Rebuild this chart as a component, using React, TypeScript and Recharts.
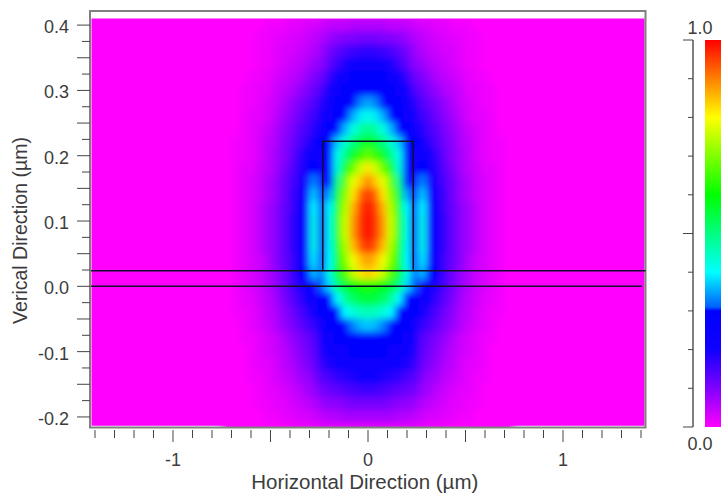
import React from 'react';
import { ComposedChart, Bar, Scatter, XAxis, YAxis, ReferenceArea, ReferenceLine } from 'recharts';

const FONT = '"Liberation Sans", Arial, sans-serif';
const TEXT = '#3c3c3c';
const AXIS = '#808080';

// intensity in percent; the field is symmetric about x = 0,
// so each row only lists x >= 0
const fieldX = [0, 0.04, 0.08, 0.12, 0.16, 0.2, 0.24, 0.28, 0.32, 0.36, 0.4, 0.44, 0.48, 0.52, 0.56, 0.6, 0.64, 0.68, 0.72];
const fieldY = [0.42, 0.4, 0.38, 0.36, 0.34, 0.32, 0.3, 0.28, 0.26, 0.24, 0.22, 0.2, 0.18, 0.16, 0.14, 0.12, 0.1, 0.08, 0.06, 0.04, 0.02, 0, -0.02, -0.04, -0.06, -0.08, -0.1, -0.12, -0.14, -0.16, -0.18, -0.2, -0.22];
const fieldRows = [
  [2, 2, 2, 2, 2, 2, 1, 1, 1, 1, 1, 0, 0, 0, 0, 0, 0, 0, 0],
  [6, 6, 6, 5, 5, 5, 4, 3, 3, 2, 2, 1, 1, 1, 0, 0, 0, 0, 0],
  [11, 11, 10, 10, 9, 8, 6, 5, 4, 3, 3, 2, 2, 1, 1, 0, 0, 0, 0],
  [17, 17, 16, 15, 13, 11, 8, 6, 5, 4, 3, 3, 2, 1, 1, 0, 0, 0, 0],
  [22, 22, 21, 19, 16, 13, 9, 8, 6, 5, 4, 3, 2, 1, 1, 0, 0, 0, 0],
  [27, 27, 26, 24, 20, 17, 12, 10, 8, 6, 5, 4, 3, 2, 1, 1, 0, 0, 0],
  [29, 29, 28, 27, 24, 20, 15, 12, 10, 8, 6, 5, 4, 2, 2, 1, 1, 0, 0],
  [35, 33, 30, 28, 26, 23, 18, 14, 12, 10, 8, 6, 4, 3, 2, 1, 1, 0, 0],
  [42, 39, 35, 30, 28, 25, 21, 16, 14, 11, 9, 7, 5, 3, 2, 2, 1, 0, 0],
  [49, 47, 42, 36, 30, 27, 24, 18, 15, 13, 10, 8, 6, 4, 3, 2, 1, 0, 0],
  [58, 55, 50, 44, 37, 29, 26, 20, 17, 14, 11, 9, 6, 5, 3, 2, 1, 1, 0],
  [68, 64, 58, 50, 41, 30, 25, 25, 20, 16, 12, 9, 7, 5, 3, 2, 1, 1, 0],
  [82, 76, 68, 61, 43, 28, 22, 29, 20, 17, 13, 10, 7, 5, 4, 2, 2, 1, 0],
  [90, 84, 78, 67, 50, 29, 22, 33, 20, 18, 14, 11, 8, 6, 4, 3, 2, 1, 0],
  [96, 92, 82, 70, 56, 35, 22, 37, 21, 19, 15, 11, 8, 6, 4, 3, 2, 1, 0],
  [99, 95, 86, 74, 60, 40, 22, 40, 21, 20, 15, 12, 9, 7, 5, 3, 2, 1, 0],
  [100, 96, 88, 76, 62, 42, 22, 42, 22, 20, 16, 12, 9, 7, 5, 3, 2, 1, 0],
  [100, 96, 88, 76, 62, 42, 22, 42, 22, 20, 16, 12, 9, 7, 5, 3, 2, 1, 0],
  [97, 93, 85, 73, 60, 41, 22, 42, 22, 20, 16, 12, 9, 7, 5, 3, 2, 1, 0],
  [88, 85, 79, 70, 59, 40, 24, 39, 22, 20, 15, 12, 9, 6, 4, 3, 2, 1, 0],
  [84, 82, 75, 66, 57, 42, 32, 36, 27, 20, 15, 11, 8, 6, 4, 3, 2, 1, 0],
  [62, 61, 59, 56, 50, 38, 31, 24, 20, 18, 14, 11, 8, 6, 4, 3, 2, 1, 0],
  [56, 55, 52, 48, 40, 30, 30, 22, 20, 16, 13, 10, 7, 5, 4, 2, 2, 1, 0],
  [46, 45, 43, 40, 29, 28, 27, 20, 17, 14, 11, 9, 6, 5, 3, 2, 1, 1, 0],
  [37, 36, 33, 28, 28, 26, 23, 17, 15, 12, 10, 8, 6, 4, 3, 2, 1, 0, 0],
  [29, 29, 28, 27, 26, 23, 21, 14, 12, 10, 8, 6, 4, 3, 2, 1, 1, 0, 0],
  [27, 27, 26, 25, 23, 21, 19, 13, 11, 9, 7, 5, 4, 3, 2, 1, 0, 0, 0],
  [24, 24, 23, 22, 21, 19, 17, 12, 10, 8, 6, 5, 3, 2, 2, 1, 0, 0, 0],
  [20, 20, 19, 18, 17, 15, 14, 10, 8, 7, 5, 4, 3, 2, 1, 1, 0, 0, 0],
  [16, 16, 15, 14, 13, 12, 11, 8, 7, 5, 4, 3, 2, 2, 1, 0, 0, 0, 0],
  [11, 11, 11, 10, 9, 9, 8, 6, 5, 4, 3, 2, 2, 1, 1, 0, 0, 0, 0],
  [7, 7, 7, 7, 6, 6, 5, 4, 3, 3, 2, 2, 1, 1, 0, 0, 0, 0, 0],
  [2, 2, 2, 2, 2, 2, 2, 1, 1, 1, 1, 0, 0, 0, 0, 0, 0, 0, 0],
];

const xTicks = [-1.4, -1.3, -1.2, -1.1, -1, -0.9, -0.8, -0.7, -0.6, -0.5, -0.4, -0.3, -0.2, -0.1, 0, 0.1, 0.2, 0.3, 0.4, 0.5, 0.6, 0.7, 0.8, 0.9, 1, 1.1, 1.2, 1.3, 1.4];
const yTicks = [-0.2, -0.175, -0.15, -0.125, -0.1, -0.075, -0.05, -0.025, 0, 0.025, 0.05, 0.075, 0.1, 0.125, 0.15, 0.175, 0.2, 0.225, 0.25, 0.275, 0.3, 0.325, 0.35, 0.375, 0.4];
const barTicks = [0, 0.1, 0.2, 0.3, 0.4, 0.5, 0.6, 0.7, 0.8, 0.9, 1];

// color scale of the legend: [percent, r, g, b]
const colorStops = [
  [0, 255, 0, 255],
  [10, 128, 0, 255],
  [20, 16, 0, 255],
  [30, 0, 0, 255],
  [31, 0, 96, 255],
  [40, 0, 255, 255],
  [50, 0, 255, 128],
  [60, 0, 255, 0],
  [70, 128, 255, 0],
  [80, 255, 255, 0],
  [90, 255, 128, 0],
  [100, 255, 0, 0],
];

const boxLeft = -0.232;
const boxRight = 0.232;
const boxTop = 0.222;
const layerTop = 0.024;
const layerBottom = 0;

function toColor(v: number) {
  let i = 1;
  while (i < colorStops.length - 1 && colorStops[i][0] < v) i++;
  const a = colorStops[i - 1];
  const b = colorStops[i];
  const t = Math.min(1, Math.max(0, (v - a[0]) / (b[0] - a[0])));
  const c = [1, 2, 3].map((k) => Math.round(a[k] + (b[k] - a[k]) * t));
  return `rgb(${c[0]},${c[1]},${c[2]})`;
}

const cells = fieldY.flatMap((y, r) =>
  fieldX.flatMap((x, c) => {
    const value = fieldRows[r][c];
    const point = { x, y, value };
    return x === 0 ? [point] : [point, { x: -x, y, value }];
  })
);

const XTick = ({ x, y, payload }: any) => {
  const v = Math.round(payload.value * 10) / 10;
  const major = Number.isInteger(v);
  const mid = Number.isInteger(v * 2);
  return (
    <g>
      <line x1={x} x2={x} y1={y - 8} y2={y + (major || mid ? 4 : 0)} stroke="#444" strokeWidth={1} />
      {major && (
        <text x={x} y={y + 28} textAnchor="middle" fontSize={18} fill={TEXT} fontFamily={FONT}>
          {v}
        </text>
      )}
    </g>
  );
};

const YTick = ({ x, y, payload }: any) => {
  const v = Math.round(payload.value * 1000) / 1000;
  const tenth = Math.abs(v * 10 - Math.round(v * 10)) < 1e-6;
  const mid = Math.abs(v * 20 - Math.round(v * 20)) < 1e-6;
  return (
    <g>
      <line x1={x + 8} x2={mid ? x - 5 : x} y1={y} y2={y} stroke="#444" strokeWidth={1} />
      {tenth && (
        <text x={x - 13} y={y + 8} textAnchor="end" fontSize={18} fill={TEXT} fontFamily={FONT}>
          {v.toFixed(1)}
        </text>
      )}
    </g>
  );
};

const BarTick = ({ x, y, payload }: any) => {
  const v = Math.round(payload.value * 10) / 10;
  const big = v === 0 || v === 0.5 || v === 1;
  return (
    <g>
      <line x1={x + 8} x2={big ? x - 2 : x + 3} y1={y} y2={y} stroke="#444" strokeWidth={1} />
      {v === 1 && (
        <text x={x + 15} y={y - 6} textAnchor="middle" fontSize={18} fill={TEXT} fontFamily={FONT}>1.0</text>
      )}
      {v === 0 && (
        <text x={x + 15} y={y + 23} textAnchor="middle" fontSize={18} fill={TEXT} fontFamily={FONT}>0.0</text>
      )}
    </g>
  );
};

const CELL_W = 8.8;
const CELL_H = 14;
const CellShape = ({ cx, cy, payload }: any) => (
  <rect x={cx - CELL_W / 2} y={cy - CELL_H / 2} width={CELL_W} height={CELL_H} fill={toColor(payload.value)} />
);

const segment = (x1: number, y1: number, x2: number, y2: number) => [
  { x: x1, y: y1 },
  { x: x2, y: y2 },
];

const LINE = '#10102a';
const Z_TOP = 900;

export default function App() {
  return (
    <div style={{ position: 'absolute', left: 0, top: 0, width: 721, height: 494, overflow: 'hidden', background: '#fff' }}>
      <style>{`.recharts-scatter { filter: url(#fieldBlur); }`}</style>
      <svg width={0} height={0} style={{ position: 'absolute' }}>
        <defs>
          <filter id="fieldBlur" filterUnits="userSpaceOnUse" x={91} y={19} width={554} height={409}>
            <feGaussianBlur stdDeviation={3.5} />
          </filter>
          <linearGradient id="scaleFill" x1="0" y1="1" x2="0" y2="0">
            {colorStops.map((s) => (
              <stop key={s[0]} offset={s[0] / 100} stopColor={`rgb(${s[1]},${s[2]},${s[3]})`} />
            ))}
          </linearGradient>
        </defs>
      </svg>

      <div style={{ position: 'absolute', left: 0, top: 0 }}>
        <ComposedChart width={721} height={494} margin={{ top: 11, right: 75.5, bottom: 0, left: 0 }}>
          <XAxis
            type="number"
            dataKey="x"
            domain={[-1.4256, 1.423]}
            ticks={xTicks}
            interval={0}
            height={64}
            tick={<XTick />}
            tickLine={false}
            axisLine={false}
            label={{ value: 'Horizontal Direction (µm)', position: 'insideBottom', offset: 5, dx: -3, fontSize: 20.5, fill: TEXT, fontFamily: FONT }}
          />
          <YAxis
            type="number"
            dataKey="y"
            domain={[-0.2161, 0.4216]}
            ticks={yTicks}
            interval={0}
            width={90}
            tick={<YTick />}
            tickLine={false}
            axisLine={false}
            label={{ value: 'Verical Direction (µm)', angle: -90, position: 'insideLeft', offset: 20, dy: 10, fontSize: 19.5, fill: TEXT, fontFamily: FONT, style: { textAnchor: 'middle' } }}
          />
          <ReferenceArea x1={-1.418} x2={1.418} y1={0.41} y2={-0.2135} fill="#ff00ff" fillOpacity={1} stroke="none" />
          <Scatter data={cells} shape={<CellShape />} isAnimationActive={false} />
          <ReferenceArea x1={-1.4256} x2={1.423} y1={0.4216} y2={-0.2161} fill="none" stroke={AXIS} strokeWidth={2} zIndex={Z_TOP} />
          <ReferenceLine segment={segment(boxLeft, layerTop, boxLeft, boxTop)} stroke={LINE} strokeWidth={1.5} zIndex={Z_TOP} />
          <ReferenceLine segment={segment(boxRight, layerTop, boxRight, boxTop)} stroke={LINE} strokeWidth={1.5} zIndex={Z_TOP} />
          <ReferenceLine segment={segment(boxLeft, boxTop, boxRight, boxTop)} stroke={LINE} strokeWidth={1.5} zIndex={Z_TOP} />
          <ReferenceLine segment={segment(-1.42, layerTop, 1.423, layerTop)} stroke={LINE} strokeWidth={1.5} zIndex={Z_TOP} />
          <ReferenceLine segment={segment(-1.42, layerBottom, 1.405, layerBottom)} stroke={LINE} strokeWidth={1.5} zIndex={Z_TOP} />
        </ComposedChart>
      </div>

      <div style={{ position: 'absolute', left: 660, top: 0 }}>
        <ComposedChart width={61} height={494} data={[{ name: 'scale', level: 1 }]} margin={{ top: 40, right: 0, bottom: 67, left: 0 }} barCategoryGap={0}>
          <XAxis dataKey="name" hide padding={{ left: 12, right: 0 }} />
          <YAxis
            type="number"
            domain={[0, 1]}
            ticks={barTicks}
            interval={0}
            width={33}
            tick={<BarTick />}
            tickLine={false}
            axisLine={{ stroke: AXIS, strokeWidth: 2 }}
          />
          <Bar dataKey="level" fill="url(#scaleFill)" isAnimationActive={false} />
        </ComposedChart>
      </div>
    </div>
  );
}
